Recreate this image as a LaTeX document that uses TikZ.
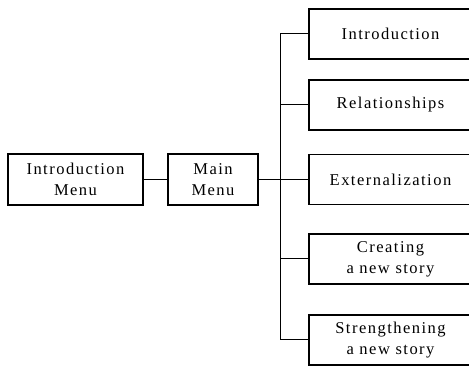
\documentclass[tikz,border=0pt]{standalone}
\usepackage{fontspec}
\setmainfont{Liberation Serif}[LetterSpace=9]
\usepackage{tikz}

\begin{document}
\begin{tikzpicture}[x=1pt,y=-1pt,
    menubox/.style={draw, line width=1.6pt, align=center, inner sep=0pt,
        font=\fontsize{16.5}{21}\selectfont},
    link/.style={line width=1pt}]
    \useasboundingbox (0,0) rectangle (469,366);
    % Left menus
    \node[menubox, minimum width=135pt, minimum height=51pt] (intromenu) at (75.5,179.5) {Introduction\\Menu};
    \node[menubox, minimum width=90pt, minimum height=51pt] (mainmenu) at (213,179.5) {Main\\Menu};
    \coordinate (trunk) at (280,0);
    
    % Sub menus
    \node[menubox, minimum width=163pt, minimum height=50pt] (intro) at (390.5,34) {Introduction};
    \node[menubox, minimum width=163pt, minimum height=50pt] (relations) at (390.5,105) {Relationships};
    \node[menubox, minimum width=163pt, minimum height=50pt] (external) at (390.5,179.5) {Externalization};
    \node[menubox, minimum width=163pt, minimum height=50pt] (creating) at (390.5,259) {Creating\\a new story};
    \node[menubox, minimum width=163pt, minimum height=50pt] (strength) at (390.5,340) {Strengthening\\a new story};
    
    % Connectors
    \draw[link] (intromenu.east) -- (mainmenu.west);
    \draw[link] (mainmenu.east) -- (external.west);
    \draw[link] (intro.west) -- (intro.west -| trunk) |- (strength.west);
    \draw[link] (relations.west) -- (relations.west -| trunk);
    \draw[link] (creating.west) -- (creating.west -| trunk);
\end{tikzpicture}
\end{document}
